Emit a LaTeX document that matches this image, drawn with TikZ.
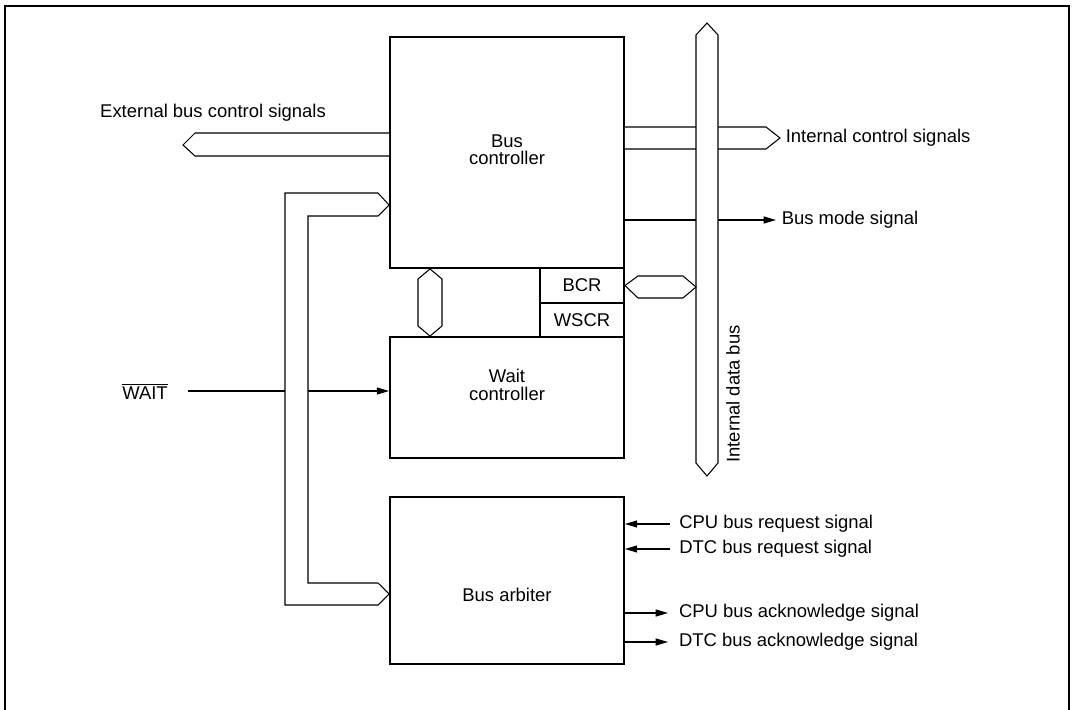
\documentclass[tikz,border=0pt]{standalone}
\usepackage{amsmath}
\usepackage{fontspec}
\setmainfont{Liberation Sans}
\usetikzlibrary{arrows.meta}
\begin{document}
\begin{tikzpicture}[x=.02cm,y=-.02cm,line width=.6pt,font=\fontsize{10.5}{9.8}\selectfont,
  blk/.style={draw,line width=1.1pt,inner sep=0pt},
  bus/.style={draw,fill=white,line join=miter},
  sig/.style={-{Triangle[length=7pt,width=4pt]}},
  lbl/.style={inner sep=3pt,align=center}]
\useasboundingbox (0,0) rectangle (1073,710);
\draw[line width=1.1pt] (5,710)--(5,6)--(1069,6)--(1069,710);
% blocks
\node[blk,minimum width=4.68cm,minimum height=4.62cm] (busctl) at (507,152.5) {};
\node[blk,minimum width=1.68cm,minimum height=.70cm] (bcr) at (582,285.5) {BCR};
\node[blk,minimum width=1.68cm,minimum height=.68cm] (wscr) at (582,320) {WSCR};
\node[blk,minimum width=4.68cm,minimum height=2.42cm] (waitctl) at (507,397.5) {};
\node[blk,minimum width=4.68cm,minimum height=3.34cm] (arbiter) at (507,580.5) {};
\node[lbl] (busctltxt) at (507,150) {Bus\\controller};
\node[lbl] (waitctltxt) at (507,385) {Wait\\controller};
\node[lbl] (arbitertxt) at (507,595) {Bus arbiter};
% signals
\node[lbl] (ext) at (213,113) {External bus control signals};
\draw[bus] (busctl.west|-0,133)--(195,133)--(183,145)--(195,156)--(busctl.west|-0,156);
\node[lbl,anchor=west] (intctl) at (780,138) {Internal control signals};
\draw[bus] (busctl.east|-0,127)--(766,127)--(intctl.west)--(766,149)--(busctl.east|-0,149);
\node[lbl,anchor=west] (mode) at (776,220) {Bus mode signal};
\draw[sig] (busctl.east|-mode) -- (mode.west);
% internal data bus
\draw[bus] (707,23)--(718,35)--(718,463)--(707,476)--(696,463)--(696,35)--cycle;
\node[lbl,rotate=90] (databus) at (733,394) {Internal data bus};
\draw[bus] (bcr.east)--(638,276)--(683,276)--(696,287)--(683,298)--(638,298)--cycle;
\draw[bus] (busctl.south-|430,0)--(442,279)--(442,326)--(waitctl.north-|430,0)--(418,326)--(418,279)--cycle;
% wait input and left bus
\node[lbl] (wait) at (145,391) {$\overline{\text{WAIT}}$};
\draw[sig,shorten <=8pt] (wait.east) -- (waitctl.west|-wait);
\draw[bus] (busctl.west|-0,205)--(378,193)--(285,193)--(285,605)--(378,605)--(arbiter.west|-0,594)
  --(378,583)--(308,583)--(308,216)--(378,216)--cycle;
% arbiter
\node[lbl,anchor=west,inner sep=5pt] (cpureq) at (670,524) {CPU bus request signal};
\node[lbl,anchor=west,inner sep=5pt] (dtcreq) at (670,549) {DTC bus request signal};
\node[lbl,anchor=west,inner sep=6pt] (cpuack) at (668,613) {CPU bus acknowledge signal};
\node[lbl,anchor=west,inner sep=6pt] (dtcack) at (668,642) {DTC bus acknowledge signal};
\draw[sig] (cpureq.west) -- (arbiter.east|-cpureq);
\draw[sig] (dtcreq.west) -- (arbiter.east|-dtcreq);
\draw[sig] (arbiter.east|-cpuack) -- (cpuack.west);
\draw[sig] (arbiter.east|-dtcack) -- (dtcack.west);
\end{tikzpicture}
\end{document}
